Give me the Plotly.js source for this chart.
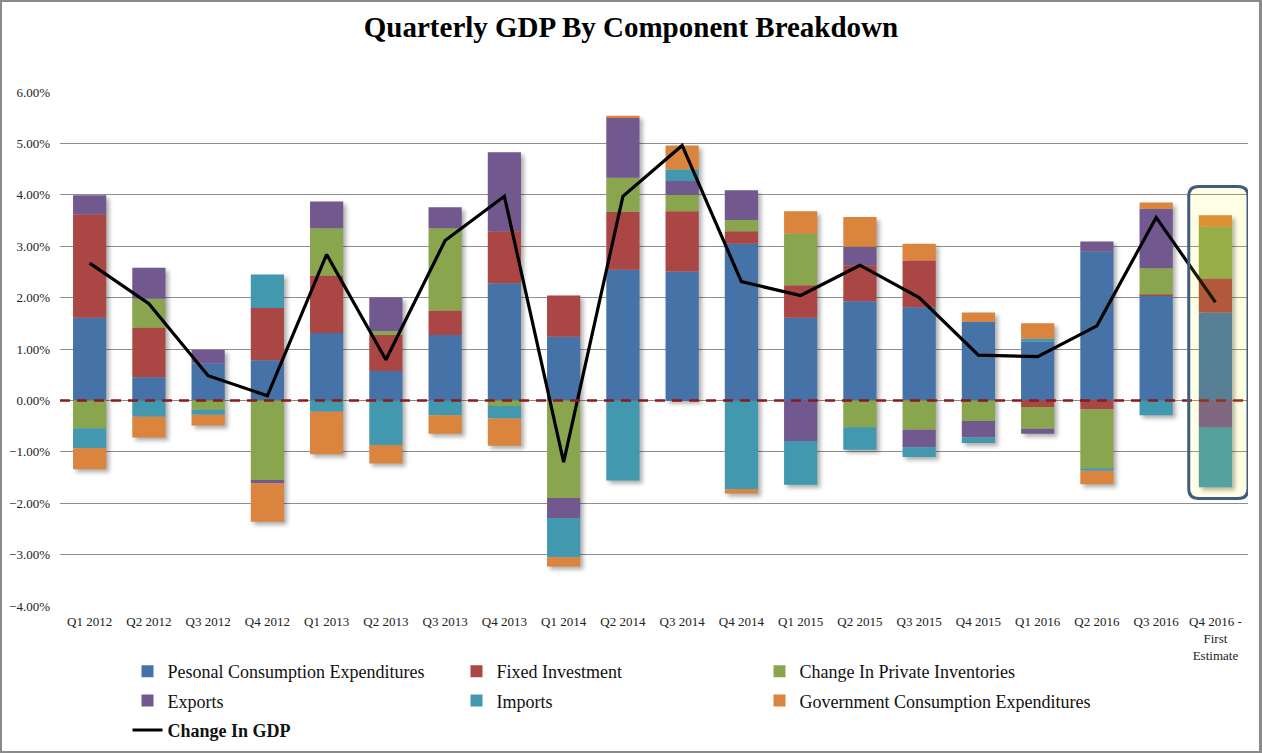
<!DOCTYPE html>
<html>
<head>
<meta charset="utf-8">
<script src="https://cdn.plot.ly/plotly-3.0.1.min.js"></script>
<style>
  html, body { margin: 0; padding: 0; background: #fff; }
  #wrap { position: relative; width: 1262px; height: 753px; }
  #chart { width: 1262px; height: 753px; }
  #frame { position: absolute; left: 0; top: 0; width: 1262px; height: 753px;
           box-sizing: border-box; border: 2px solid #8a8a8a; border-right-width: 3px;
           pointer-events: none; }
  /* soft drop shadow behind the stacked columns */
  #chart .barlayer { filter: drop-shadow(3px 3px 2px rgba(0,0,0,0.32)); }
</style>
</head>
<body>
<div id="wrap">
  <div id="chart"></div>
  <div id="frame"></div>
</div>
<script>
// Quarterly contributions to real GDP growth, percentage points
const quarters = ["Q1 2012", "Q2 2012", "Q3 2012", "Q4 2012",
                  "Q1 2013", "Q2 2013", "Q3 2013", "Q4 2013",
                  "Q1 2014", "Q2 2014", "Q3 2014", "Q4 2014",
                  "Q1 2015", "Q2 2015", "Q3 2015", "Q4 2015",
                  "Q1 2016", "Q2 2016", "Q3 2016", "Q4 2016 -<br>First<br>Estimate"];

const personalConsumption = [1.61, 0.45, 0.72, 0.78, 1.31, 0.57, 1.27, 2.28, 1.24, 2.54,
                             2.51, 3.05, 1.61, 1.93, 1.81, 1.53, 1.14, 2.89, 2.04, 1.71];
const fixedInvestment     = [2.01, 0.97, 0.00, 1.02, 1.12, 0.70, 0.48, 1.01, 0.80, 1.13,
                             1.17, 0.24, 0.63, 0.70, 0.91, 0.00, -0.13, -0.17, 0.02, 0.66];
const privateInventories  = [-0.54, 0.56, -0.18, -1.55, 0.92, 0.08, 1.60, -0.11, -1.90, 0.66,
                             0.32, 0.22, 1.00, -0.52, -0.57, -0.40, -0.42, -1.15, 0.51, 1.01];
const exportsContrib      = [0.37, 0.60, 0.26, -0.06, 0.52, 0.65, 0.41, 1.54, -0.39, 1.18,
                             0.27, 0.58, -0.79, 0.36, -0.34, -0.32, -0.10, 0.20, 1.16, -0.53];
const importsContrib      = [-0.39, -0.32, -0.10, 0.65, -0.22, -0.87, -0.29, -0.24, -0.76, -1.56,
                             0.22, -1.73, -0.85, -0.44, -0.19, -0.11, 0.06, -0.05, -0.29, -1.16];
const governmentSpending  = [-0.41, -0.40, -0.21, -0.75, -0.83, -0.36, -0.36, -0.53, -0.18, 0.03,
                             0.47, -0.08, 0.44, 0.58, 0.33, 0.18, 0.30, -0.26, 0.12, 0.22];
const gdpChange           = [2.67, 1.88, 0.48, 0.09, 2.84, 0.79, 3.11, 3.97, -1.20, 3.97,
                             4.96, 2.31, 2.04, 2.63, 2.00, 0.88, 0.85, 1.45, 3.56, 1.91];

const seriesNames  = ["Pesonal Consumption Expenditures", "Fixed Investment",
                      "Change In Private Inventories", "Exports", "Imports",
                      "Government Consumption Expenditures"];
const seriesValues = [personalConsumption, fixedInvestment, privateInventories,
                      exportsContrib, importsContrib, governmentSpending];
const seriesColors = ["#4572A7", "#AA4643", "#89A54E", "#71588F", "#4198AF", "#DB843D"];
// legend column for each component (three columns, filled row by row)
const legendColumns = ["legend", "legend2", "legend3", "legend", "legend2", "legend3"];

const serif = "'Liberation Serif', 'DejaVu Serif', serif";

const traces = seriesNames.map((name, i) => ({
  type: "bar",
  name: name,
  legend: legendColumns[i],
  legendgroup: "g" + i,
  x: quarters,
  y: seriesValues[i],
  marker: { color: seriesColors[i], line: { width: 0 } },
  hovertemplate: "%{x}: %{y:.2f}%<extra>" + name + "</extra>"
}));

traces.push({
  type: "scatter",
  mode: "lines",
  name: "<b>Change In GDP</b>",
  legend: "legend",
  legendgroup: "gdp",
  x: quarters,
  y: gdpChange,
  line: { color: "#000000", width: 3.2 },
  hovertemplate: "%{x}: %{y:.2f}%<extra>GDP</extra>"
});

// Highlight frame around the latest (first-estimate) quarter
const last = quarters.length - 1;
let posTotal = 0, negTotal = 0;
seriesValues.forEach(s => { if (s[last] > 0) posTotal += s[last]; else negTotal += s[last]; });
const bx0 = last - 0.45, bx1 = last + 0.55;
const by0 = negTotal - 0.22, by1 = posTotal + 0.56;
const rx = 0.17, ry = 0.19;
const boxPath =
  `M ${bx0 + rx},${by1} L ${bx1 - rx},${by1} Q ${bx1},${by1} ${bx1},${by1 - ry} ` +
  `L ${bx1},${by0 + ry} Q ${bx1},${by0} ${bx1 - rx},${by0} ` +
  `L ${bx0 + rx},${by0} Q ${bx0},${by0} ${bx0},${by0 + ry} ` +
  `L ${bx0},${by1 - ry} Q ${bx0},${by1} ${bx0 + rx},${by1} Z`;

const legendTop = 1 - 653 / 753;
const legendBase = {
  orientation: "v",
  xref: "container", yref: "container",
  xanchor: "left", yanchor: "top",
  y: legendTop,
  tracegroupgap: 3,
  font: { family: serif, size: 18, color: "#111111" },
  itemwidth: 30,
  traceorder: "grouped",
  bgcolor: "rgba(0,0,0,0)"
};

const layout = {
  width: 1262,
  height: 753,
  paper_bgcolor: "#ffffff",
  plot_bgcolor: "#ffffff",
  margin: { l: 60, r: 14, t: 92, b: 147, autoexpand: false },
  barmode: "relative",
  bargap: 0.44,
  showlegend: true,
  title: {
    text: "<b>Quarterly GDP By Component Breakdown</b>",
    font: { family: serif, size: 29, color: "#000000" },
    x: 0.5, xanchor: "center",
    y: 1 - 27 / 753, yref: "container", yanchor: "middle"
  },
  xaxis: {
    type: "category",
    range: [-0.5, quarters.length - 0.45],
    showgrid: false,
    showline: false,
    zeroline: false,
    ticks: "",
    tickangle: 0,
    ticklabelstandoff: 6,
    tickfont: { family: serif, size: 13, color: "#222222" },
    fixedrange: true
  },
  yaxis: {
    range: [-4, 6],
    dtick: 1,
    tickformat: ".2f",
    ticksuffix: "%",
    showgrid: true,
    gridcolor: "#8e8e8e",
    gridwidth: 1,
    zeroline: false,
    showline: false,
    ticks: "",
    ticklabelstandoff: 9,
    tickfont: { family: serif, size: 13, color: "#222222" },
    fixedrange: true
  },
  legend:  Object.assign({}, legendBase, { x: 127.5 / 1262 }),
  legend2: Object.assign({}, legendBase, { x: 456.5 / 1262 }),
  legend3: Object.assign({}, legendBase, { x: 759.5 / 1262 }),
  shapes: [
    {
      type: "line", xref: "paper", yref: "y",
      x0: 0, x1: 1, y0: 0, y1: 0,
      line: { color: "#8B1A1A", width: 2.5, dash: "10px,7px" },
      layer: "above"
    },
    {
      type: "path", xref: "x", yref: "y",
      path: boxPath,
      fillcolor: "rgba(255,255,0,0.1)",
      line: { color: "#3F5D7D", width: 3 },
      layer: "above"
    }
  ],
  hovermode: "closest"
};

Plotly.newPlot("chart", traces, layout, { displayModeBar: false });
</script>
</body>
</html>
